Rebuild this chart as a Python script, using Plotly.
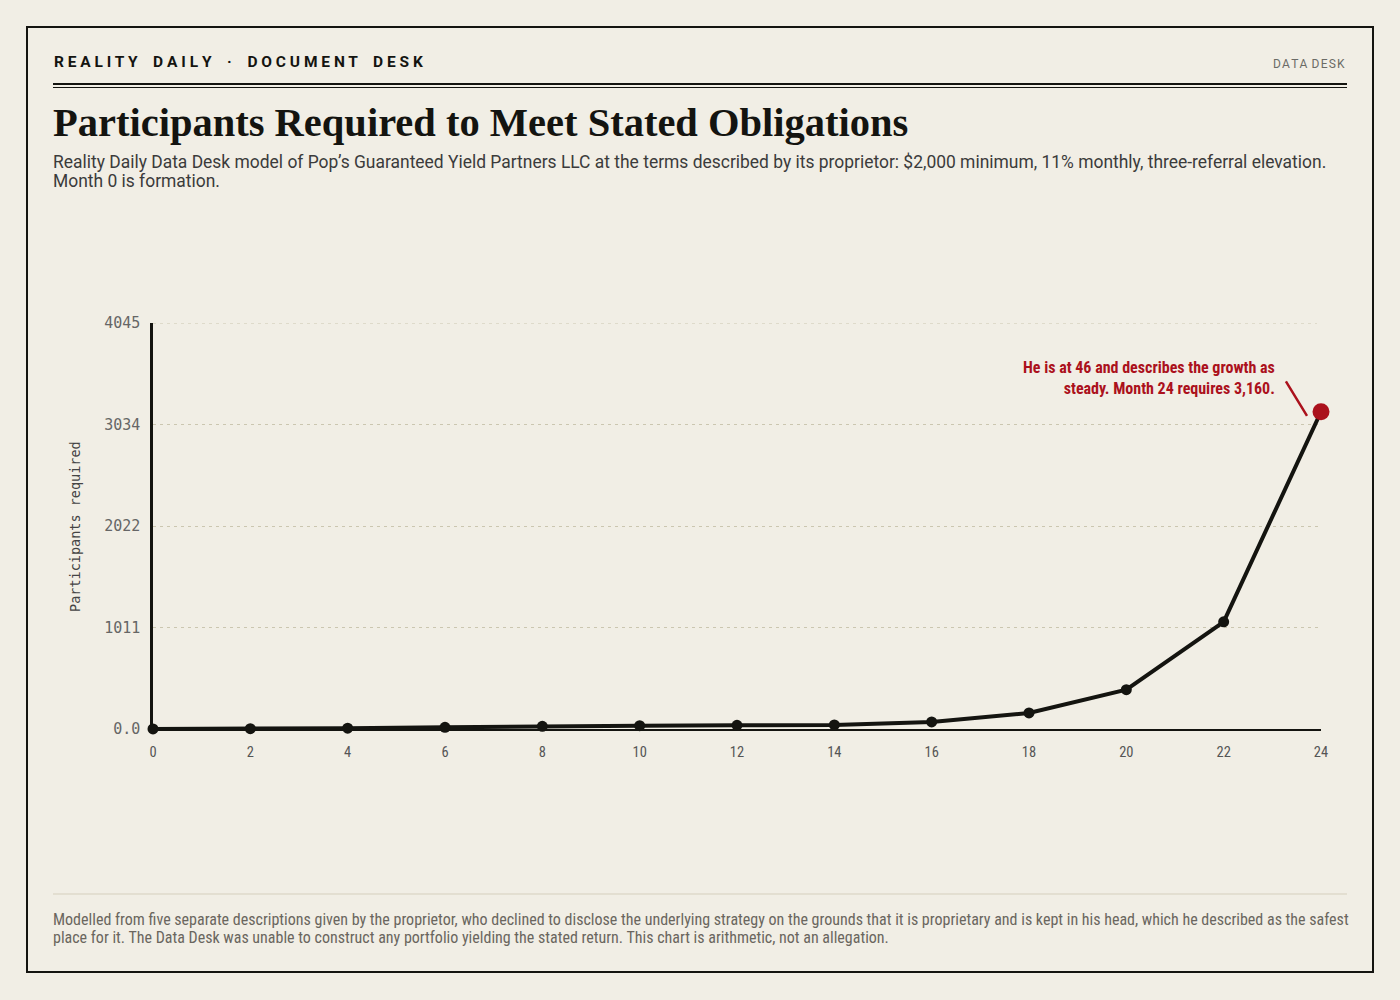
import plotly.graph_objects as go

# participants required by month
months = [0, 2, 4, 6, 8, 10, 12, 14, 16, 18, 20, 22, 24]
participants = [1, 3, 8, 17, 27, 33, 37, 41, 70, 160, 392, 1068, 3160]
y_ticks = [0, 1011.25, 2022.5, 3033.75, 4045]
y_tick_labels = ["0.0", "1011", "2022", "3034", "4045"]
x_ticks = list(range(0, 25, 2))

W, H = 1400, 1000
L, R, T, B = 153, 1321, 323, 729   # plot area in pixels

BG = "#f1eee5"
INK = "#141410"
RED = "#ab111c"
GRID = "#cbc6b0"
CONDENSED = "Roboto Condensed, Liberation Sans Narrow, Arial Narrow, sans-serif"


def px(x):
    return (x - L) / (R - L)


def py(y):
    return (B - y) / (B - T)


def spaced(s, gap=" ", word_gap=" \u2002 "):
    return word_gap.join(gap.join(w) for w in s.split(" "))


fig = go.Figure()

fig.add_scatter(
    x=months, y=participants, mode="lines+markers",
    line=dict(color=INK, width=4),
    marker=dict(color=INK, size=11),
    cliponaxis=False, hoverinfo="x+y", showlegend=False,
)
fig.add_scatter(
    x=[months[-1]], y=[participants[-1]], mode="markers",
    marker=dict(color=RED, size=17),
    cliponaxis=False, showlegend=False,
)

shapes = [
    # outer frame
    dict(type="rect", xref="paper", yref="paper",
         x0=px(27), x1=px(1373), y0=py(27), y1=py(972),
         line=dict(color=INK, width=2), layer="below"),
    # double rule under masthead
    dict(type="line", xref="paper", yref="paper",
         x0=px(53), x1=px(1347), y0=py(84), y1=py(84),
         line=dict(color=INK, width=2)),
    dict(type="line", xref="paper", yref="paper",
         x0=px(53), x1=px(1347), y0=py(87.5), y1=py(87.5),
         line=dict(color=INK, width=1)),
    # footer rule
    dict(type="line", xref="paper", yref="paper",
         x0=px(53), x1=px(1347), y0=py(894), y1=py(894),
         line=dict(color="#d5cfbd", width=1)),
    # top gridline (plotly drops grid lines sitting on the plot edge)
    dict(type="line", xref="paper", yref="y", layer="below",
         x0=0, x1=px(1317), y0=y_ticks[-1], y1=y_ticks[-1],
         line=dict(color=GRID, width=1, dash="3px,4px")),
]

annotations = [
    dict(text="<b>" + spaced("REALITY DAILY · DOCUMENT DESK") + "</b>",
         x=px(52), y=py(62), xanchor="left", yanchor="middle",
         font=dict(family="Roboto", size=15.5, color=INK)),
    dict(text=spaced("DATA DESK", gap="\u200a", word_gap=" \u200a"),
         x=px(1347), y=py(64), xanchor="right", yanchor="middle",
         font=dict(family="Roboto", size=12, color="#6b6b66")),
    dict(text="<b>Participants Required to Meet Stated Obligations</b>",
         x=px(51), y=py(122), xanchor="left", yanchor="middle",
         font=dict(family="Liberation Serif, DejaVu Serif, serif", size=40.5, color=INK)),
    dict(text="Reality Daily Data Desk model of Pop\u2019s Guaranteed Yield Partners LLC at the terms "
              "described by its proprietor: $2,000 minimum, 11% monthly, three-referral elevation.",
         x=px(51), y=py(162), xanchor="left", yanchor="middle",
         font=dict(family="Roboto", size=17.45, color="#3b3b3b")),
    dict(text="Month 0 is formation.",
         x=px(51), y=py(181), xanchor="left", yanchor="middle",
         font=dict(family="Roboto", size=17.45, color="#3b3b3b")),
    dict(text=spaced("Participants required", gap="", word_gap=" "),
         x=px(75), y=py(527), xanchor="center", yanchor="middle", textangle=-90,
         font=dict(family="DejaVu Sans Mono", size=13.5, color="#444")),
    dict(text="Modelled from five separate descriptions given by the proprietor, who declined to disclose "
              "the underlying strategy on the grounds that it is proprietary and is kept in his head, "
              "which he described as the safest",
         x=px(51), y=py(919), xanchor="left", yanchor="middle",
         font=dict(family=CONDENSED, size=16, color="#6a665e")),
    dict(text="place for it. The Data Desk was unable to construct "
              "any portfolio yielding the stated return. This chart is arithmetic, not an allegation.",
         x=px(51), y=py(937), xanchor="left", yanchor="middle",
         font=dict(family=CONDENSED, size=16, color="#6a665e")),
    # callout on the last point
    dict(text="<b>He is at 46 and describes the growth as<br>steady. Month 24 requires 3,160.</b>",
         x=months[-1], y=participants[-1], xref="x", yref="y",
         xanchor="right", yanchor="middle", align="right",
         xshift=-44, yshift=34, showarrow=False,
         font=dict(family=CONDENSED, size=16, color=RED)),
    dict(text="", x=months[-1], y=participants[-1], xref="x", yref="y",
         xshift=-14, yshift=-4, showarrow=True, arrowhead=0, arrowwidth=2.5,
         arrowcolor=RED, ax=-22, ay=-36),
]
for a in annotations:
    a.setdefault("xref", "paper")
    a.setdefault("yref", "paper")
    a.setdefault("showarrow", False)

fig.update_layout(
    width=W, height=H,
    margin=dict(l=L, r=W - R, t=T, b=H - B),
    paper_bgcolor=BG, plot_bgcolor=BG,
    shapes=shapes, annotations=annotations,
    showlegend=False,
)
fig.update_xaxes(
    range=[0, 24], tickvals=x_ticks, showgrid=False, zeroline=False,
    showline=True, linecolor=INK, linewidth=2, ticks="", ticklabelstandoff=9,
    tickfont=dict(family=CONDENSED, size=14.5, color="#555"),
)
fig.update_yaxes(
    range=[0, 4045], tickvals=y_ticks, ticktext=y_tick_labels,
    showgrid=True, gridcolor=GRID, griddash="3px,4px", gridwidth=1,
    zeroline=False, showline=True, linecolor=INK, linewidth=2.5, ticks="",
    ticklabelstandoff=7,
    tickfont=dict(family="DejaVu Sans Mono", size=15, color="#666"),
)

fig.write_html(
    "out.html",
    config={"displayModeBar": False},
    post_script="document.body.style.margin='0';"
                "document.body.style.background='" + BG + "';",
)
